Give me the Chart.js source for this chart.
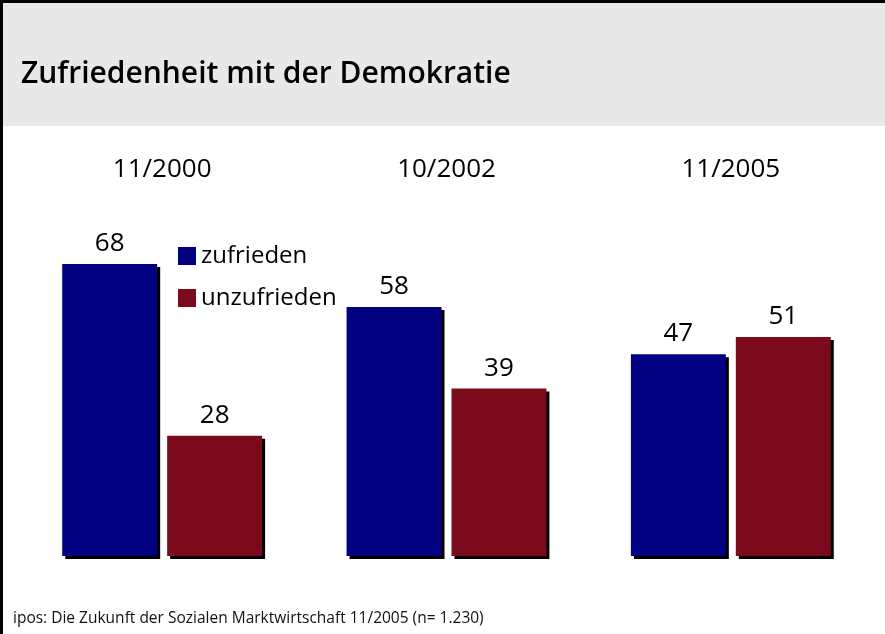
<!DOCTYPE html>
<html>
<head>
<meta charset="utf-8">
<script src="https://cdn.jsdelivr.net/npm/chart.js@4/dist/chart.umd.min.js"></script>
<style>
    html, body { margin: 0; padding: 0; background: #fff; }
    #chart { display: block; }
</style>
</head>
<body>
<canvas id="chart" width="885" height="634"></canvas>
<script>
const categories = ['11/2000', '10/2002', '11/2005'];
const seriesNames = ['zufrieden', 'unzufrieden'];
const zufrieden = [68, 58, 47];
const unzufrieden = [28, 39, 51];
const titleText = 'Zufriedenheit mit der Demokratie';
const sourceText = 'ipos: Die Zukunft der Sozialen Marktwirtschaft 11/2005 (n= 1.230)';

const BLUE = '#000080';
const RED = '#7a0a1c';
const FONT = "'Open Sans', 'Noto Sans', sans-serif";

// gray header band, black frame lines, title and source line
const framePlugin = {
    id: 'frame',
    beforeDraw(chart) {
        const ctx = chart.ctx;
        ctx.save();
        ctx.fillStyle = '#fff';
        ctx.fillRect(0, 0, chart.width, chart.height);
        ctx.fillStyle = '#e8e8e8';
        ctx.fillRect(0, 0, chart.width, 126);
        ctx.fillStyle = '#000';
        ctx.fillRect(0, 0, chart.width, 3);
        ctx.fillRect(0, 0, 3, chart.height);
        ctx.restore();
    },
    afterDraw(chart) {
        const ctx = chart.ctx;
        ctx.save();
        ctx.fillStyle = '#000';
        ctx.textBaseline = 'alphabetic';
        ctx.textAlign = 'left';
        ctx.font = `600 30px ${FONT}`;
        ctx.fillText(titleText, 21, 83);
        ctx.font = `15.5px ${FONT}`;
        ctx.fillStyle = '#111';
        ctx.fillText(sourceText, 13, 623);

        // legend
        ctx.font = `24px ${FONT}`;
        ctx.textBaseline = 'middle';
        chart.data.datasets.forEach((ds, i) => {
            const y = 256 + i * 42;
            ctx.fillStyle = ds.backgroundColor;
            ctx.fillRect(178, y - 9, 18, 18);
            ctx.fillStyle = '#000';
            ctx.fillText(ds.label, 201, y);
        });
        ctx.restore();
    }
};

// hard drop shadow on bars + value labels
const barShadowPlugin = {
    id: 'barShadow',
    beforeDatasetsDraw(chart) {
        const ctx = chart.ctx;
        ctx.save();
        ctx.shadowColor = '#000';
        ctx.shadowBlur = 0;
        ctx.shadowOffsetX = 3;
        ctx.shadowOffsetY = 3;
    },
    afterDatasetsDraw(chart) {
        const ctx = chart.ctx;
        ctx.restore();

        ctx.save();
        ctx.font = `26px ${FONT}`;
        ctx.fillStyle = '#000';
        ctx.textAlign = 'center';
        ctx.textBaseline = 'alphabetic';
        chart.data.datasets.forEach((ds, i) => {
            chart.getDatasetMeta(i).data.forEach((bar, j) => {
                ctx.fillText(String(ds.data[j]), bar.x, bar.y - 13);
            });
        });
        ctx.restore();
    }
};

new Chart(document.getElementById('chart'), {
    type: 'bar',
    data: {
        labels: categories,
        datasets: [
            { label: seriesNames[0], data: zufrieden, backgroundColor: BLUE },
            { label: seriesNames[1], data: unzufrieden, backgroundColor: RED }
        ]
    },
    options: {
        responsive: false,
        animation: false,
        layout: { padding: { top: 146, left: 20, right: 12, bottom: 78 } },
        datasets: {
            bar: { barPercentage: 0.905, categoryPercentage: 0.738, clip: false }
        },
        plugins: {
            legend: { display: false },
            tooltip: { enabled: false },
            title: { display: false }
        },
        scales: {
            x: {
                position: 'top',
                grid: { display: false, drawTicks: false },
                border: { display: false },
                ticks: { color: '#000', font: { family: FONT, size: 26 }, padding: 8 }
            },
            y: { display: false, min: 0, max: 84.5 }
        }
    },
    plugins: [framePlugin, barShadowPlugin]
});
</script>
</body>
</html>
